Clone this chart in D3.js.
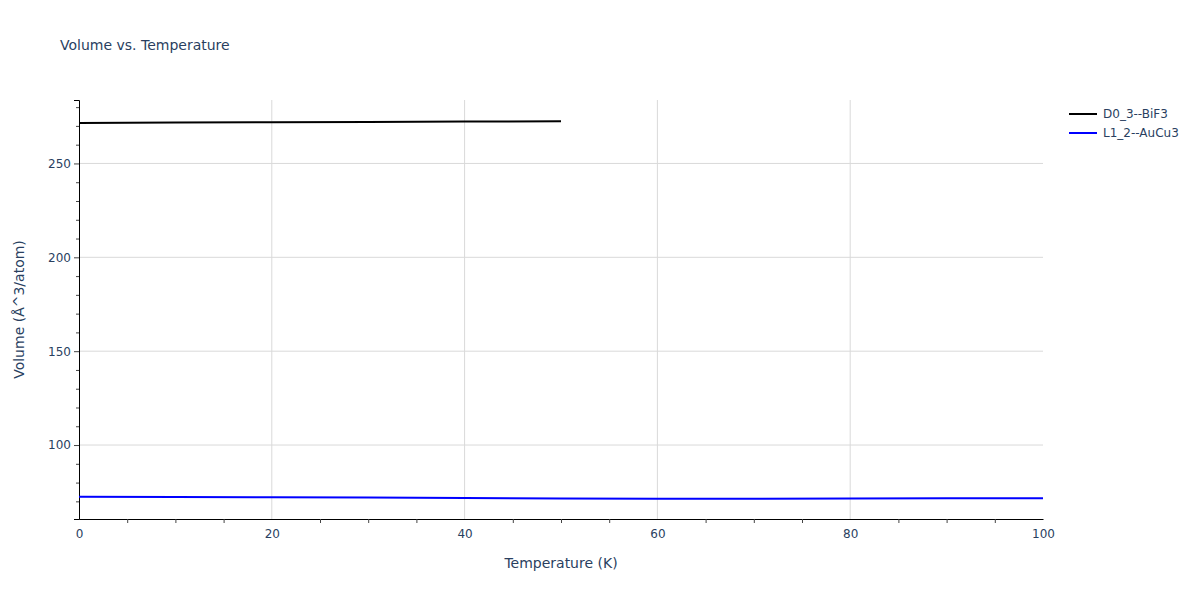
<!DOCTYPE html>
<html lang="en">
<head>
<meta charset="UTF-8">
<title>Volume vs. Temperature</title>
<script src="https://d3js.org/d3.v7.min.js"></script>
<style>
  body { margin: 0; background: #fff; }
  text { font-family: "DejaVu Sans", Verdana, sans-serif; fill: #2a3f5f; }
</style>
</head>
<body>
<svg width="1200" height="600"></svg>
<script>
// data
const seriesNames = ["D0_3--BiF3", "L1_2--AuCu3"];
const seriesColors = ["#000000", "#0000ff"];
const tempBiF3 = [0, 10, 20, 30, 40, 50];
const volBiF3 = [271.6, 271.75, 271.92, 272.1, 272.3, 272.5];
const tempAuCu3 = [0, 10, 20, 30, 40, 50, 60, 70, 80, 90, 100];
const volAuCu3 = [72.5, 72.35, 72.2, 72.0, 71.8, 71.5, 71.35, 71.4, 71.5, 71.6, 71.7];
const xTicks = [0, 20, 40, 60, 80, 100];
const yTicks = [100, 150, 200, 250];

const svg = d3.select("svg");
const margin = {top: 100, right: 157, bottom: 81, left: 79};
const width = 1200 - margin.left - margin.right;
const height = 600 - margin.top - margin.bottom;
const g = svg.append("g").attr("transform", `translate(${margin.left},${margin.top})`);

const x = d3.scaleLinear().domain([0, 100]).range([0, width]);
const y = d3.scaleLinear().domain([60.6, 283.8]).range([height, 0]);

// grid
g.selectAll(".gx").data(xTicks.slice(1, -1)).enter().append("line")
    .attr("x1", d => x(d)).attr("x2", d => x(d))
    .attr("y1", 0).attr("y2", height)
    .attr("stroke", "#d9d9d9");
g.selectAll(".gy").data(yTicks).enter().append("line")
    .attr("x1", 0).attr("x2", width)
    .attr("y1", d => y(d)).attr("y2", d => y(d))
    .attr("stroke", "#d9d9d9");

// x axis
const xAxis = g.append("g").attr("transform", `translate(0,${height})`)
    .call(d3.axisBottom(x).tickValues(xTicks).tickSize(0).tickPadding(10));
xAxis.select(".domain").attr("stroke", "#000");
xAxis.selectAll("text").style("font-size", "12px").attr("fill", "#2a3f5f");
const xMinor = d3.range(5, 100, 5).filter(d => d % 20 !== 0);
g.append("g").attr("transform", `translate(0,${height})`)
    .call(d3.axisBottom(x).tickValues(xMinor).tickSize(4).tickFormat(""))
    .call(a => a.select(".domain").remove())
    .selectAll("line").attr("stroke", "#444");

// y axis
const yAxis = g.append("g")
    .call(d3.axisLeft(y).tickValues(yTicks).tickSize(5).tickPadding(3));
yAxis.select(".domain").attr("stroke", "#000");
yAxis.selectAll("line").attr("stroke", "#444");
yAxis.selectAll("text").style("font-size", "12px").attr("fill", "#2a3f5f");
const yMinor = d3.range(70, 290, 10).filter(d => d % 50 !== 0);
g.append("g")
    .call(d3.axisLeft(y).tickValues(yMinor).tickSize(3).tickFormat(""))
    .call(a => a.select(".domain").remove())
    .selectAll("line").attr("stroke", "#444");

// lines
const line = d3.line().x(d => x(d[0])).y(d => y(d[1]));
const series = [
    d3.zip(tempBiF3, volBiF3),
    d3.zip(tempAuCu3, volAuCu3)
];
series.forEach((s, i) => {
    g.append("path").datum(s)
        .attr("d", line)
        .attr("fill", "none")
        .attr("stroke", seriesColors[i])
        .attr("stroke-width", 2);
});

// titles
svg.append("text").attr("x", 60).attr("y", 50)
    .style("font-size", "14px").text("Volume vs. Temperature");
svg.append("text").attr("x", margin.left + width / 2).attr("y", 568)
    .attr("text-anchor", "middle").style("font-size", "14px").text("Temperature (K)");
svg.append("text")
    .attr("transform", `translate(24,${margin.top + height / 2}) rotate(-90)`)
    .attr("text-anchor", "middle").style("font-size", "14px").text("Volume (Å^3/atom)");

// legend
const legend = svg.append("g").attr("transform", "translate(1069,114)");
seriesNames.forEach((name, i) => {
    const row = legend.append("g").attr("transform", `translate(0,${i * 19})`);
    row.append("line").attr("x1", 0).attr("x2", 28).attr("y1", 0).attr("y2", 0)
        .attr("stroke", seriesColors[i]).attr("stroke-width", 2);
    row.append("text").attr("x", 34).attr("y", 4).style("font-size", "12px").text(name);
});
</script>
</body>
</html>
